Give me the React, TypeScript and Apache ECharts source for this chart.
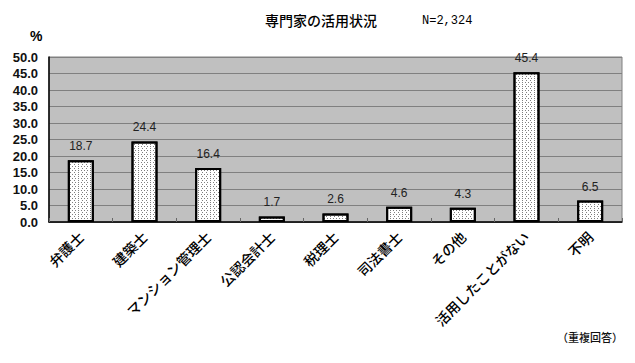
import React, { useEffect, useRef } from "react";
import * as echarts from "echarts";

const categories = [
  "弁護士",
  "建築士",
  "マンション管理士",
  "公認会計士",
  "税理士",
  "司法書士",
  "その他",
  "活用したことがない",
  "不明",
];
const values = [18.7, 24.4, 16.4, 1.7, 2.6, 4.6, 4.3, 45.4, 6.5];
const yMin = 0;
const yMax = 50;
const yStep = 5;
const titleText = "専門家の活用状況";
const nText = "N=2,324";
const unitText = "%";
const noteText = "（重複回答）";

export default function App() {
  const ref = useRef<HTMLDivElement>(null);
  useEffect(() => {
    if (!ref.current) return;
    const chart = echarts.init(ref.current, undefined, { renderer: "svg" });
    const jp = "'Noto Sans CJK JP', sans-serif";
    chart.setOption({
      animation: false,
      backgroundColor: "#ffffff",
      grid: {
        left: 49,
        top: 57,
        width: 573,
        height: 165,
        show: true,
        backgroundColor: "#c0c0c0",
        borderColor: "#808080",
        borderWidth: 1,
        containLabel: false,
      },
      graphic: [
        {
          type: "text",
          left: 265,
          top: 13,
          style: { text: titleText, font: `500 14px ${jp}`, fill: "#000" },
        },
        {
          type: "text",
          left: 422,
          top: 15,
          style: { text: nText, font: "12px 'Liberation Mono', monospace", fill: "#000" },
        },
        {
          type: "text",
          left: 30,
          top: 29,
          style: { text: unitText, font: "bold 14px Arial, 'Liberation Sans', sans-serif", fill: "#000" },
        },
        {
          type: "text",
          right: 12,
          top: 331,
          style: { text: noteText, font: `500 11px ${jp}`, fill: "#111" },
        },
      ],
      xAxis: {
        type: "category",
        data: categories,
        axisLine: { show: true, lineStyle: { color: "#000", width: 1.5 } },
        axisTick: { show: true, inside: true, length: 4, lineStyle: { color: "#666" } },
        axisLabel: {
          interval: 0,
          rotate: 45,
          margin: 12,
          fontSize: 14,
          fontWeight: 500,
          fontFamily: "Noto Sans CJK JP",
          color: "#000",
        },
      },
      yAxis: {
        type: "value",
        min: yMin,
        max: yMax,
        interval: yStep,
        axisLine: { show: true, lineStyle: { color: "#000", width: 1.5 } },
        axisTick: { show: false },
        splitLine: { show: true, lineStyle: { color: "#808080", width: 1 } },
        axisLabel: {
          margin: 11,
          fontSize: 13,
          fontWeight: "bold",
          fontFamily: "Arial, 'Liberation Sans', sans-serif",
          color: "#111",
          formatter: (v: number) => v.toFixed(1),
        },
      },
      series: [
        {
          type: "bar",
          data: values,
          barWidth: 26,
          itemStyle: {
            color: "#ffffff",
            borderColor: "#000",
            borderWidth: 2,
            decal: {
              symbol: "rect",
              symbolSize: 1,
              color: "rgba(0,0,0,0.5)",
              dashArrayX: [[1, 2], [0, 1.5, 1, 0.5]],
              dashArrayY: [1, 1],
              rotation: 0,
            },
          },
          label: {
            show: true,
            position: "top",
            distance: 8,
            fontSize: 12,
            fontFamily: "Arial, 'Liberation Sans', sans-serif",
            color: "#222",
            formatter: (p: any) => Number(p.value).toFixed(1),
          },
        },
      ],
    });
    return () => chart.dispose();
  }, []);
  return (
    <div
      ref={ref}
      style={{ position: "fixed", left: 0, top: 0, width: 635, height: 363 }}
    />
  );
}
